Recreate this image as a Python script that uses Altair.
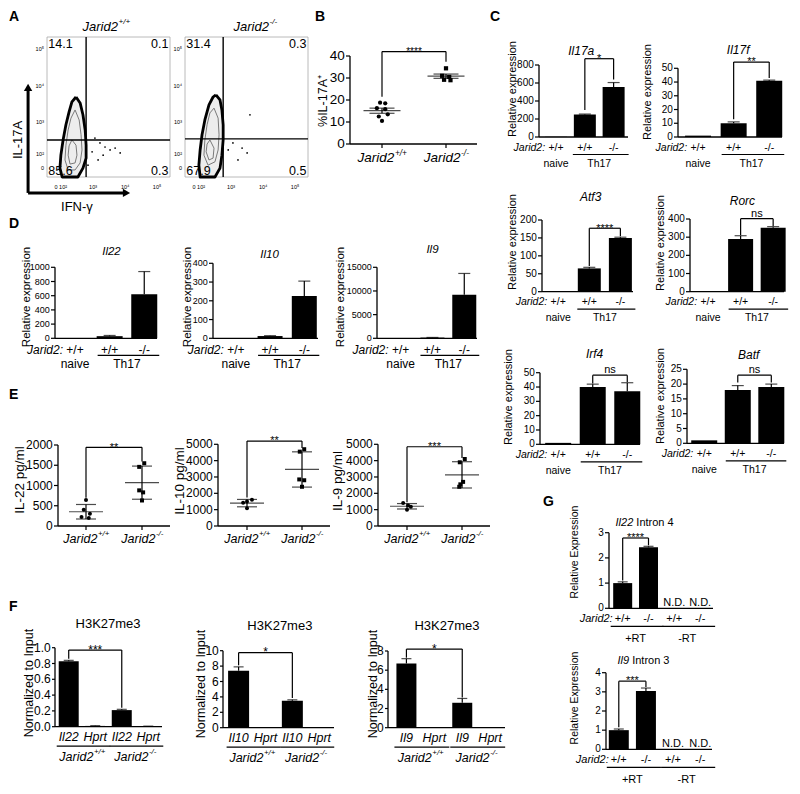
import altair as alt
import numpy as np
import pandas as pd

OFF = 8
W, H = 784, 778
REG = "Liberation Sans, Arial, Helvetica, sans-serif"

# ======================= DATA =======================
# ---- A: flow cytometry (biexponential display units) ----
A_tick_pos_x = [0.29, 0.51, 1.46, 2.48, 3.49]
A_tick_pos_y = [0.24, 0.62, 1.49, 2.46, 3.46]
A_tick_text = ["0", "10²", "10³", "10⁴", "10⁵"]
A_quad_wt = ["14.1", "0.1", "85.6", "0.3"]
A_quad_ko = ["31.4", "0.3", "67.9", "0.5"]
A_gate_wt = [1.24, 1.00]
A_gate_ko = [1.21, 1.03]
A_outer_wt_x = [0.92, 1.05, 1.14, 1.21, 1.24, 1.24, 1.14, 0.98, 0.48, 0.41, 0.44, 0.51, 0.60, 0.70, 0.79, 0.92]
A_outer_wt_y = [2.16, 2.00, 1.68, 1.27, 0.86, 0.51, 0.24, 0.00, 0.00, 0.24, 0.59, 1.00, 1.41, 1.76, 2.03, 2.16]
A_mid_wt_x = [0.89, 1.02, 1.08, 1.11, 1.05, 0.89, 0.67, 0.57, 0.60, 0.67, 0.76, 0.89]
A_mid_wt_y = [1.81, 1.54, 1.14, 0.73, 0.38, 0.19, 0.19, 0.46, 0.86, 1.27, 1.59, 1.81]
A_in_wt_x = [0.79, 0.92, 0.95, 0.89, 0.73, 0.67, 0.70, 0.79]
A_in_wt_y = [1.00, 0.86, 0.59, 0.38, 0.35, 0.59, 0.84, 1.00]
A_outer_ko_x = [0.98, 1.11, 1.17, 1.21, 1.21, 1.17, 1.11, 0.95, 0.48, 0.44, 0.48, 0.54, 0.63, 0.76, 0.89, 0.98]
A_outer_ko_y = [2.22, 2.08, 1.81, 1.41, 1.00, 0.59, 0.24, 0.00, 0.00, 0.32, 0.73, 1.14, 1.54, 1.95, 2.16, 2.22]
A_mid_ko_x = [0.92, 1.05, 1.08, 1.05, 0.95, 0.73, 0.60, 0.63, 0.70, 0.79, 0.92]
A_mid_ko_y = [1.86, 1.59, 1.14, 0.73, 0.41, 0.32, 0.59, 1.00, 1.41, 1.73, 1.86]
A_in_ko_x = [0.79, 0.92, 0.89, 0.76, 0.67, 0.70, 0.79]
A_in_ko_y = [1.00, 0.78, 0.51, 0.46, 0.68, 0.89, 1.00]
A_dots_wt_x = [1.68, 1.84, 2.00, 2.16, 1.62, 1.78, 1.43, 2.32, 1.52, 1.30]
A_dots_wt_y = [0.92, 0.81, 0.73, 0.78, 0.46, 0.59, 0.68, 0.65, 1.05, 0.32]
A_dots_ko_x = [2.06, 1.97, 1.81, 1.52, 1.68, 1.37]
A_dots_ko_y = [1.68, 0.65, 0.78, 0.92, 0.46, 0.73]

# ---- B: %IL-17A+ ----
B_wt = [18.8, 18.5, 16.3, 15.8, 13.5, 12.5, 10.5]
B_wt_jit = [-0.03, 0.05, -0.08, 0.05, 0.09, -0.05, 0.0]
B_ko = [34.4, 31.0, 30.5, 29.2, 29.0]
B_ko_jit = [0.0, -0.06, 0.05, -0.03, 0.07]

# ---- C: relative expression (naive +/+, Th17 +/+, Th17 -/-) ----
C_cats = ["+/+", "+/+", "-/-"]
C_Il17a, C_Il17a_err = [2, 250, 555], [0, 5, 50]
C_Il17f, C_Il17f_err = [1, 10, 41], [0, 1, 0.4]
C_Atf3, C_Atf3_err = [1, 65, 150], [0, 3, 2]
C_Rorc, C_Rorc_err = [1, 290, 352], [0, 18, 6]
C_Irf4, C_Irf4_err = [1, 40, 37], [0, 2, 6]
C_Batf, C_Batf_err = [1, 18, 19], [0, 1.5, 1]

# ---- D ----
D_Il22, D_Il22_err = [0, 30, 620], [0, 10, 320]
D_Il10, D_Il10_err = [1, 12, 225], [0, 2, 80]
D_Il9, D_Il9_err = [0, 150, 9200], [0, 30, 4500]

# ---- E: cytokine pg/ml ----
E_IL22_wt, E_IL22_wt_jit = [640, 400, 300, 220, 200], [0.0, -0.04, 0.07, -0.08, 0.05]
E_IL22_ko, E_IL22_ko_jit = [1550, 1460, 880, 830, 630], [0.04, -0.05, -0.05, 0.02, 0.0]
E_IL10_wt, E_IL10_wt_jit = [1600, 1500, 1420, 1080], [0.09, 0.0, -0.07, 0.0]
E_IL10_ko, E_IL10_ko_jit = [4700, 4550, 2850, 2800, 2400], [0.04, -0.04, -0.05, 0.04, 0.0]
E_IL9_wt, E_IL9_wt_jit = [1400, 1250, 1180, 1000], [-0.07, 0.02, 0.07, 0.0]
E_IL9_ko, E_IL9_ko_jit = [4100, 3900, 2700, 2550, 2400], [0.05, -0.04, 0.02, -0.03, -0.05]

# ---- F: H3K27me3 ChIP ----
F_Il22, F_Il22_err = [0.83, 0.01, 0.21, 0.005], [0.01, 0.003, 0.01, 0.002]
F_Il10, F_Il10_err = [7.4, 0.05, 3.5, 0.05], [0.5, 0, 0.12, 0]
F_Il9, F_Il9_err = [6.7, 0.03, 2.6, 0.03], [0.5, 0, 0.45, 0]

# ---- G: intron expression ----
G_cats = ["+/+", "-/-", "+/+", "-/-"]
G_Il22, G_Il22_err = [1.0, 2.42, 0, 0], [0.05, 0.04, 0, 0]
G_Il9, G_Il9_err = [1.0, 3.05, 0, 0], [0.06, 0.15, 0, 0]

# ======================= HELPERS =======================
EM = {'J': .5, 'a': .556, 'r': .333, 'i': .222, 'd': .556, '2': .556, ':': .278, '+': .584,
      '/': .278, '-': .333, 'I': .278, 'l': .222, 'n': .556, 't': .278, 'o': .556, ' ': .278,
      'H': .722, 'p': .556, 'K': .667, 'm': .833, 'e': .556, 'f': .278, 'c': .5, 'R': .722,
      'B': .667, 'A': .667, 'T': .611}


def tw(s, size):
    return sum(EM.get(c, 0.556) for c in s) * size


def one(x, y, t):
    return pd.DataFrame({'x': [x], 'y': [y], 't': [t]})


def X(xs, f='x'):
    return alt.X(f + ':Q', scale=xs, axis=None)


def Y(ys, f='y'):
    return alt.Y(f + ':Q', scale=ys, axis=None)


def txt(df, xs, ys, size, style='normal', weight='normal', align='center',
        baseline='middle', dx=0, dy=0, angle=None):
    kw = dict(font=REG, fontSize=size, fontStyle=style, fontWeight=weight, align=align,
              baseline=baseline, dx=dx, dy=dy, color='black')
    if angle is not None:
        kw['angle'] = angle
    return alt.Chart(df).mark_text(**kw).encode(x=X(xs), y=Y(ys), text='t:N')


def sup_label(xs, ys, x, y, base, sup, size, dy, style='italic'):
    ss = round(size * 0.62, 1)
    wb = tw(base, size)
    wsp = tw(sup, ss)
    start = -(wb + wsp) / 2
    return [txt(one(x, y, base), xs, ys, size, style, align='left', dx=start, dy=dy),
            txt(one(x, y, sup), xs, ys, ss, style, align='left', dx=start + wb + 0.6,
                dy=dy - size * 0.38)]


def lin_scales(g):
    x0, x1, c1, s = g['x0'], g['x1'], g['c1'], g['s']
    xs = alt.Scale(domain=[1 + (x0 - c1) / s, 1 + (x1 - c1) / s], range=[x0 - OFF, x1 - OFF],
                   nice=False, zero=False)
    ys = alt.Scale(domain=list(g['ydom']), range=[g['yb'] - OFF, g['yt'] - OFF], nice=False, zero=False)
    return xs, ys


def px2x(g, px):
    return 1 + (px - g['c1']) / g['s']


def fmt_tick(v, fmt):
    return f"{v:.1f}" if fmt == '.1f' else str(int(round(v)))


def axis_layers(xs, ys, g, xticks=None):
    """Axis lines, ticks, tick labels and y title, drawn through the panel scales."""
    xd0, xd1 = px2x(g, g['x0']), px2x(g, g['x1'])
    yd, ticks = g['ydom'], g['ticks']
    n = len(ticks)
    tl = g.get('tl', 4)
    dom = pd.DataFrame({'x': [xd0, xd0], 'x2': [xd0, xd1], 'y': [yd[0], yd[0]], 'y2': [yd[1], yd[0]]})
    L = [alt.Chart(dom).mark_rule(color='black', strokeWidth=1.3).encode(
        x=X(xs), x2='x2:Q', y=Y(ys), y2='y2:Q')]
    tk = pd.DataFrame({'x': [xd0] * n, 'x2': [xd0] * n, 'y': ticks})
    L.append(alt.Chart(tk).mark_rule(color='black', strokeWidth=1.2, xOffset=-tl).encode(
        x=X(xs), x2='x2:Q', y=Y(ys)))
    lab = pd.DataFrame({'x': [xd0] * n, 'y': ticks, 't': [fmt_tick(v, g.get('fmt', 'd')) for v in ticks]})
    L.append(txt(lab, xs, ys, g['lsize'], align='right', dx=-(tl + 1.2)))
    ty = yd[0] + (g['yb'] - g['ytp']) / (g['yb'] - g['yt']) * (yd[1] - yd[0])
    L.append(txt(one(px2x(g, g['ytx']), ty, g['ytitle']), xs, ys, g['tsize'], angle=270))
    if xticks:
        xt = pd.DataFrame({'x': xticks, 'y': [yd[0]] * len(xticks), 'y2': [yd[0]] * len(xticks)})
        L.append(alt.Chart(xt).mark_rule(color='black', strokeWidth=1.2, y2Offset=4).encode(
            x=X(xs), y=Y(ys), y2='y2:Q'))
    return L


def bracket(xs, ys, brk, size):
    xa, xb, yt_, yl, yr, lab = brk
    dfb = pd.DataFrame({'x': [xa, xa, xb], 'x2': [xa, xb, xb], 'y': [yl, yt_, yr], 'y2': [yt_, yt_, yt_]})
    star = lab.startswith('*')
    return [alt.Chart(dfb).mark_rule(color='black', strokeWidth=1.2).encode(
                x=X(xs), x2='x2:Q', y=Y(ys), y2='y2:Q'),
            txt(one((xa + xb) / 2, yt_, lab), xs, ys, size, baseline='alphabetic',
                dy=(size * 0.3 if star else -2))]


def title_layers(g, xs, ys, segs):
    size = g['titlefs']
    widths = [tw(t, size) for t, it in segs]
    gap = 0.278 * size
    total = sum(widths) + gap * (len(segs) - 1)
    x = px2x(g, g['title_px'])
    dy = g['title_py'] - g['yt']
    start = -total / 2
    L = []
    for (t, it), w in zip(segs, widths):
        L.append(txt(one(x, g['ydom'][1], t), xs, ys, size, 'italic' if it else 'normal',
                     align='left', dx=start, dy=dy))
        start += w + gap
    return L


def bar_panel(g, vals, errs, cats, groups, segs, brk=None, nd=()):
    xs, ys = lin_scales(g)
    n = len(vals)
    df = pd.DataFrame({'x': list(range(1, n + 1)), 'v': vals, 'e': errs})
    df['top'] = df['v'] + df['e']
    L = [alt.Chart(df).mark_bar(size=g['bw'], color='black').encode(
        x=X(xs), y=Y(ys, 'v'), y2=alt.Y2Datum(0))]
    de = df[df['e'] > 0]
    L.append(alt.Chart(de).mark_rule(color='black', strokeWidth=1.2).encode(x=X(xs), y=Y(ys, 'v'), y2='top:Q'))
    L.append(alt.Chart(de).mark_tick(orient='horizontal', size=g['cap'], thickness=1.2, color='black').encode(
        x=X(xs), y=Y(ys, 'top')))
    L += axis_layers(xs, ys, g)
    if brk:
        L += bracket(xs, ys, brk, g['sfs'])
    dfc = pd.DataFrame({'x': list(range(1, n + 1)), 'y': [0] * n, 't': cats})
    L.append(txt(dfc, xs, ys, g['cfs'], g['cstyle'], dy=g['dy1']))
    if g.get('prefix'):
        L.append(txt(one(1, 0, 'Jarid2:'), xs, ys, g['cfs'], 'italic', align='right',
                     dx=-g['pdx'], dy=g['dy1']))
    lines = [(a, b) for (a, b, lab, line, sup) in groups if line]
    dfl = pd.DataFrame({'x': [a for a, b in lines], 'x2': [b for a, b in lines], 'y': [0] * len(lines)})
    L.append(alt.Chart(dfl).mark_rule(color='black', strokeWidth=1.2, xOffset=-12, x2Offset=15,
                                      yOffset=g['dy2']).encode(x=X(xs), x2='x2:Q', y=Y(ys)))
    for (a, b, lab, line, sup) in groups:
        if sup:
            L += sup_label(xs, ys, (a + b) / 2, 0, lab, sup, g['gfs'], g['dy3'])
        else:
            L.append(txt(one((a + b) / 2, 0, lab), xs, ys, g['gfs'], g['gstyle'], dy=g['dy3']))
    for k in nd:
        L.append(txt(one(k, 0, 'N.D.'), xs, ys, g['cfs'], baseline='alphabetic', dy=-2))
    L += title_layers(g, xs, ys, segs)
    return alt.layer(*L)


def dot_panel(g, wt, wt_j, ko, ko_j, use_sem, brk):
    xs, ys = lin_scales(g)
    d1 = pd.DataFrame({'x': [1 + j for j in wt_j], 'y': wt})
    d2 = pd.DataFrame({'x': [2 + j for j in ko_j], 'y': ko})
    L = [alt.Chart(d1).mark_point(shape='circle', filled=True, size=g['ps'], color='black', opacity=1).encode(
            x=X(xs), y=Y(ys)),
         alt.Chart(d2).mark_point(shape='square', filled=True, size=g['ps'], color='black', opacity=1).encode(
            x=X(xs), y=Y(ys))]
    m = [float(np.mean(wt)), float(np.mean(ko))]
    sd = [float(np.std(wt, ddof=1)), float(np.std(ko, ddof=1))]
    if use_sem:
        sd = [sd[0] / np.sqrt(len(wt)), sd[1] / np.sqrt(len(ko))]
    lo = [a - b for a, b in zip(m, sd)]
    hi = [a + b for a, b in zip(m, sd)]
    st = pd.DataFrame({'x': [1, 2], 'm': m, 'lo': lo, 'hi': hi})
    L.append(alt.Chart(st).mark_tick(orient='horizontal', size=g['mw'], thickness=1.2, color='black').encode(
        x=X(xs), y=Y(ys, 'm')))
    L.append(alt.Chart(st).mark_rule(color='black', strokeWidth=1.2).encode(x=X(xs), y=Y(ys, 'lo'), y2='hi:Q'))
    caps = pd.DataFrame({'x': [1, 2, 1, 2], 'y': lo + hi})
    L.append(alt.Chart(caps).mark_tick(orient='horizontal', size=g['cw'], thickness=1.2, color='black').encode(
        x=X(xs), y=Y(ys)))
    L += axis_layers(xs, ys, g, xticks=[1, 2])
    L += bracket(xs, ys, brk, g['sfs'])
    L += sup_label(xs, ys, 1, 0, 'Jarid2', '+/+', g['xfs'], g['xdy'])
    L += sup_label(xs, ys, 2, 0, 'Jarid2', '-/-', g['xfs'], g['xdy'])
    return alt.layer(*L)


def poly(xl, yl, k):
    return pd.DataFrame({'x': xl, 'y': yl, 'k': [k] * len(xl), 'i': list(range(len(xl)))})


def flow_panel(x0, outer, mids, dots, gate, quads, tsup, tpx, arrows=False):
    xs = alt.Scale(domain=[0, 3.9], range=[x0 - OFF, x0 + 123 - OFF], nice=False, zero=False)
    ys = alt.Scale(domain=[0, 3.78], range=[177 - OFF, 37 - OFF], nice=False, zero=False)
    L = []
    frame = pd.DataFrame({'x': [0], 'x2': [3.9], 'y': [0], 'y2': [3.78]})
    L.append(alt.Chart(frame).mark_rect(filled=False, color='#a8a8a8', strokeWidth=0.8).encode(
        x=X(xs), x2='x2:Q', y=Y(ys), y2='y2:Q'))
    L.append(alt.Chart(poly(outer[0], outer[1], 'o')).mark_line(
        color='black', strokeWidth=2.8, fill='#ededed', strokeJoin='round').encode(
        x=X(xs), y=Y(ys), order='i:Q'))
    md = pd.concat([poly(mx, my, 'm%d' % i) for i, (mx, my) in enumerate(mids)])
    L.append(alt.Chart(md).mark_line(color='#7a7a7a', strokeWidth=1, strokeJoin='round').encode(
        x=X(xs), y=Y(ys), detail='k:N', order='i:Q'))
    L.append(alt.Chart(pd.DataFrame({'x': dots[0], 'y': dots[1]})).mark_circle(
        size=3, color='black', opacity=1).encode(x=X(xs), y=Y(ys)))
    gd = pd.DataFrame({'x': [gate[0], 0], 'x2': [gate[0], 3.9], 'y': [0, gate[1]], 'y2': [3.78, gate[1]]})
    L.append(alt.Chart(gd).mark_rule(color='black', strokeWidth=1.4).encode(x=X(xs), x2='x2:Q', y=Y(ys), y2='y2:Q'))
    ql = pd.DataFrame({'x': [0.04, 0.04], 'y': [3.6, 0.16], 't': [quads[0], quads[2]]})
    qr = pd.DataFrame({'x': [3.85, 3.85], 'y': [3.6, 0.16], 't': [quads[1], quads[3]]})
    L.append(txt(ql, xs, ys, 12.5, align='left'))
    L.append(txt(qr, xs, ys, 12.5, align='right'))
    tx = pd.DataFrame({'x': A_tick_pos_x, 'y': [0] * 5, 't': A_tick_text})
    ty = pd.DataFrame({'x': [0] * 5, 'y': A_tick_pos_y, 't': A_tick_text})
    L.append(txt(tx, xs, ys, 5.5, dy=10))
    L.append(txt(ty, xs, ys, 5.5, align='right', dx=-3))
    L += sup_label(xs, ys, (tpx - x0) / 31.5, 3.78, 'Jarid2', tsup, 13, -10)
    if arrows:
        ar = pd.DataFrame({'x': [-0.6, -0.6], 'x2': [-0.6, 2.5], 'y': [-0.43, -0.43], 'y2': [2.4, -0.43]})
        L.append(alt.Chart(ar).mark_rule(color='black', strokeWidth=3).encode(x=X(xs), x2='x2:Q', y=Y(ys), y2='y2:Q'))
        L.append(alt.Chart(pd.DataFrame({'x': [-0.6], 'y': [2.42]})).mark_point(
            shape='triangle-up', filled=True, size=70, color='black', opacity=1).encode(x=X(xs), y=Y(ys)))
        L.append(alt.Chart(pd.DataFrame({'x': [2.52], 'y': [-0.43]})).mark_point(
            shape='triangle-right', filled=True, size=70, color='black', opacity=1).encode(x=X(xs), y=Y(ys)))
        L.append(txt(one(-0.92, 1.0, 'IL-17A'), xs, ys, 13, angle=270))
        L.append(txt(one(0.95, -0.81, 'IFN-γ'), xs, ys, 13))
    return alt.layer(*L)


def letter(t, px, py):
    return alt.Chart(pd.DataFrame({'t': [t]})).mark_text(
        font=REG, fontSize=14, fontWeight='bold', align='left', baseline='alphabetic', color='black').encode(
        x=alt.value(px - OFF), y=alt.value(py - OFF), text='t:N')


# ======================= LAYOUT =======================
CST = dict(lsize=10, tsize=11, cfs=10.5, cstyle='normal', gfs=10.5, gstyle='normal',
           dy1=10.5, dy2=17.5, dy3=26.5, cap=12, sfs=11, prefix=True, pdx=11,
           titlefs=12, ytitle='Relative expression')
DST = dict(CST, lsize=9, tsize=11.5, cfs=12, gfs=12, dy1=12, dy2=17, dy3=26, titlefs=11.5, pdx=12)
FST = dict(lsize=12, tsize=12.5, cfs=12.5, cstyle='italic', gfs=12.5, gstyle='italic', tl=3,
           dy1=10.5, dy2=19.5, dy3=30.5, cap=10, sfs=12, prefix=False, titlefs=13,
           ytitle='Normalized to Input')
GST = dict(CST, lsize=10, tsize=10.5, cfs=11, gfs=11, dy1=11, dy2=18, dy3=30.5, pdx=10, titlefs=11,
           cap=10, ytitle='Relative Expression')
EST = dict(lsize=12, tsize=13.5, ps=16, mw=34, cw=20, xfs=12.5, xdy=13, sfs=11)

CD_groups = [(1, 1, 'naive', False, None), (2, 3, 'Th17', True, None)]
F_groups = [(1, 2, 'Jarid2', True, '+/+'), (3, 4, 'Jarid2', True, '-/-')]
G_groups = [(1, 2, '+RT', True, None), (3, 4, '-RT', True, None)]


def mk(base, **k):
    d = dict(base)
    d.update(k)
    return d


panels = []
# A
panels.append(flow_panel(47, (A_outer_wt_x, A_outer_wt_y), [(A_mid_wt_x, A_mid_wt_y), (A_in_wt_x, A_in_wt_y)],
                         (A_dots_wt_x, A_dots_wt_y), A_gate_wt, A_quad_wt, '+/+', 106, arrows=True))
panels.append(flow_panel(185, (A_outer_ko_x, A_outer_ko_y), [(A_mid_ko_x, A_mid_ko_y), (A_in_ko_x, A_in_ko_y)],
                         (A_dots_ko_x, A_dots_ko_y), A_gate_ko, A_quad_ko, '-/-', 255))
# B
gB = dict(x0=350, x1=477, c1=382, s=64, yb=144, yt=56, ydom=[0, 40], ticks=[0, 10, 20, 30, 40],
          ytitle='%IL-17A⁺', ytx=323, ytp=101, lsize=13.5, tsize=12.5, ps=18, mw=37, cw=25,
          xfs=13.5, xdy=14, sfs=10)
panels.append(dot_panel(gB, B_wt, B_wt_jit, B_ko, B_ko_jit, True, (1, 2, 42, 21.5, 37.4, '****')))

# C
panels.append(bar_panel(mk(CST, x0=534, x1=633, c1=553, s=32, yb=137, yt=65, ydom=[0, 800],
                           ticks=[0, 200, 400, 600, 800], bw=22, title_px=581, title_py=51, ytx=505, ytp=89),
                        C_Il17a, C_Il17a_err, C_cats, CD_groups, [('Il17a', True)], (2, 3, 870, 300, 640, '*')))
panels.append(bar_panel(mk(CST, x0=673, x1=787, c1=695, s=39, yb=137, yt=68.3, ydom=[0, 50],
                           ticks=[0, 10, 20, 30, 40, 50], bw=26, title_px=739, title_py=50, ytx=640, ytp=92),
                        C_Il17f, C_Il17f_err, C_cats, CD_groups, [('Il17f', True)], (2, 3, 54.5, 13, 43, '**')))
panels.append(bar_panel(mk(CST, x0=537, x1=638, c1=555, s=34.5, yb=291.7, yt=220, ydom=[0, 200],
                           ticks=[0, 50, 100, 150, 200], bw=23, title_px=591, title_py=197, ytx=505, ytp=242),
                        C_Atf3, C_Atf3_err, C_cats, CD_groups, [('Atf3', True)], (2, 3, 177, 72, 155, '****')))
panels.append(bar_panel(mk(CST, x0=685, x1=789, c1=705, s=36, yb=291.7, yt=219, ydom=[0, 400],
                           ticks=[0, 100, 200, 300, 400], bw=25, title_px=743, title_py=201, ytx=653, ytp=243),
                        C_Rorc, C_Rorc_err, C_cats, CD_groups, [('Rorc', True)], (2, 3, 402, 312, 362, 'ns')))
panels.append(bar_panel(mk(CST, x0=535, x1=645, c1=555, s=38, yb=444.3, yt=372.7, ydom=[0, 50],
                           ticks=[0, 10, 20, 30, 40, 50], bw=26, title_px=595, title_py=354, ytx=501, ytp=397),
                        C_Irf4, C_Irf4_err, C_cats, CD_groups, [('Irf4', True)], (2, 3, 48.3, 42.5, 43.5, 'ns')))
panels.append(bar_panel(mk(CST, x0=682, x1=789, c1=701, s=37, yb=443.3, yt=369.3, ydom=[0, 25],
                           ticks=[0, 5, 10, 15, 20, 25], bw=26, title_px=750, title_py=355, ytx=653, ytp=396),
                        C_Batf, C_Batf_err, C_cats, CD_groups, [('Batf', True)], (2, 3, 23, 20.5, 20.5, 'ns')))

# D
panels.append(bar_panel(mk(DST, x0=50, x1=162, c1=72, s=38, yb=338.3, yt=267.3, ydom=[0, 1000],
                           ticks=[0, 200, 400, 600, 800, 1000], bw=26, title_px=112, title_py=252, ytx=19, ytp=297),
                        D_Il22, D_Il22_err, C_cats, CD_groups, [('Il22', True)]))
panels.append(bar_panel(mk(DST, x0=208, x1=323, c1=233, s=37.5, yb=338.3, yt=263.3, ydom=[0, 400],
                           ticks=[0, 100, 200, 300, 400], bw=25, title_px=270, title_py=255, ytx=181, ytp=297),
                        D_Il10, D_Il10_err, C_cats, CD_groups, [('Il10', True)]))
panels.append(bar_panel(mk(DST, x0=372, x1=482, c1=398, s=35, yb=338.3, yt=267.3, ydom=[0, 15000],
                           ticks=[0, 5000, 10000, 15000], bw=24, title_px=433, title_py=250, ytx=332, ytp=297),
                        D_Il9, D_Il9_err, C_cats, CD_groups, [('Il9', True)]))

# E
panels.append(dot_panel(mk(EST, x0=58, x1=170, c1=86, s=56, yb=526, yt=445, ydom=[0, 2000],
                           ticks=[0, 500, 1000, 1500, 2000], ytitle='IL-22 pg/ml', ytx=19.5, ytp=480),
                        E_IL22_wt, E_IL22_wt_jit, E_IL22_ko, E_IL22_ko_jit, False, (1, 2, 1942, 700, 1590, '**')))
panels.append(dot_panel(mk(EST, x0=218, x1=330, c1=247, s=55, yb=526, yt=444.3, ydom=[0, 5000],
                           ticks=[0, 1000, 2000, 3000, 4000, 5000], ytitle='IL-10 pg/ml', ytx=179.5, ytp=481),
                        E_IL10_wt, E_IL10_wt_jit, E_IL10_ko, E_IL10_ko_jit, False, (1, 2, 5200, 1750, 4775, '**')))
panels.append(dot_panel(mk(EST, x0=378, x1=490, c1=407, s=55, yb=526, yt=444.3, ydom=[0, 5000],
                           ticks=[0, 1000, 2000, 3000, 4000, 5000], ytitle='IL-9 pg/ml', ytx=338, ytp=481),
                        E_IL9_wt, E_IL9_wt_jit, E_IL9_ko, E_IL9_ko_jit, False, (1, 2, 4850, 1450, 4160, '***')))

# F
panels.append(bar_panel(mk(FST, x0=50, x1=167, c1=65, s=29, yb=726.7, yt=647.7, ydom=[0, 1],
                           ticks=[0, 0.2, 0.4, 0.6, 0.8, 1.0], fmt='.1f', bw=20, title_px=108, title_py=624,
                           ytx=21.5, ytp=683),
                        F_Il22, F_Il22_err, ['Il22', 'Hprt', 'Il22', 'Hprt'], F_groups, [('H3K27me3', False)],
                        (1, 3, 0.97, 0.86, 0.24, '***')))
panels.append(bar_panel(mk(FST, x0=218, x1=339, c1=235, s=29.3, yb=727.7, yt=650.7, ydom=[0, 10],
                           ticks=[0, 2, 4, 6, 8, 10], bw=21, title_px=280, title_py=626, ytx=193.5, ytp=684),
                        F_Il10, F_Il10_err, ['Il10', 'Hprt', 'Il10', 'Hprt'], F_groups, [('H3K27me3', False)],
                        (1, 3, 9.75, 8.1, 3.85, '*')))
panels.append(bar_panel(mk(FST, x0=383, x1=510, c1=403, s=30.3, yb=727.7, yt=651, ydom=[0, 8],
                           ticks=[0, 2, 4, 6, 8], bw=20, title_px=447, title_py=626, ytx=367, ytp=684),
                        F_Il9, F_Il9_err, ['Il9', 'Hprt', 'Il9', 'Hprt'], F_groups, [('H3K27me3', False)],
                        (1, 3, 8.2, 7.3, 3.15, '*')))

# G
panels.append(bar_panel(mk(GST, x0=604, x1=718, c1=619, s=28.3, yb=608.3, yt=532.7, ydom=[0, 3],
                           ticks=[0, 1, 2, 3], bw=19, title_px=643, title_py=522.7, ytx=567, ytp=552),
                        G_Il22, G_Il22_err, G_cats, G_groups, [('Il22', True), ('Intron 4', False)],
                        (1, 2, 2.79, 1.1, 2.5, '****'), nd=(3, 4)))
panels.append(bar_panel(mk(GST, x0=601, x1=717, c1=615, s=29.7, yb=749.3, yt=672.7, ydom=[0, 4],
                           ticks=[0, 1, 2, 3, 4], bw=20, title_px=642, title_py=661, ytx=567, ytp=698),
                        G_Il9, G_Il9_err, G_cats, G_groups, [('Il9', True), ('Intron 3', False)],
                        (1, 2, 3.56, 1.15, 3.25, '***'), nd=(3, 4)))

for t, px, py in [('A', 9, 21), ('B', 315, 21), ('C', 490, 21), ('D', 9, 228), ('E', 9, 399),
                  ('F', 9, 611), ('G', 543, 506)]:
    panels.append(letter(t, px, py))

chart = alt.layer(*panels).resolve_scale(x='independent', y='independent').properties(
    width=W, height=H, padding=0, autosize=alt.AutoSizeParams(type='none')
).configure_view(stroke=None)

chart.save("out.html", embed_options={"renderer": "svg", "actions": False})
